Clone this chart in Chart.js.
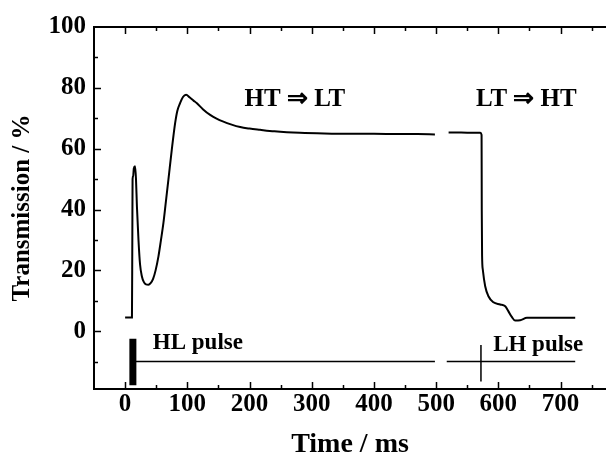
<!DOCTYPE html>
<html><head><meta charset="utf-8">
<script src="https://cdn.jsdelivr.net/npm/chart.js@4.4.0/dist/chart.umd.min.js"></script>
<style>html,body{margin:0;padding:0;background:#fff;overflow:hidden}#wrap{width:606px;height:453px}</style>
</head><body><div id="wrap"><canvas id="c" width="606" height="453"></canvas></div>
<script>
// ---- data (time in ms, transmission in %) ----
const xTickLabels = [0, 100, 200, 300, 400, 500, 600, 700];
const yTickLabels = [0, 20, 40, 60, 80, 100];

const htltTime  = [0, 11, 11.6, 12, 13, 14, 16, 17.5, 19, 21.5, 24, 27, 30, 33.5, 37.5, 41, 45, 49, 53.6, 57.5, 61.6, 65.5, 69.6, 75, 80.4, 84, 88.4, 93, 98, 104, 110, 115, 125, 136.7, 147, 158, 170, 185, 200, 217, 240, 260, 281, 320, 360, 400, 440, 470, 498];
const htltTrans = [4.5, 4.5, 30, 50, 51, 53.5, 54.2, 50, 41, 30, 22, 18, 16.2, 15.4, 15.3, 15.8, 17.2, 20, 24.6, 29.8, 35.6, 42.5, 49.8, 59.6, 68.4, 72.5, 75, 77, 77.7, 76.8, 75.8, 75, 73, 71.1, 69.9, 68.9, 68, 67.1, 66.6, 66.2, 65.7, 65.4, 65.2, 65.0, 64.9, 64.9, 64.8, 64.8, 64.7];

const lthtTime  = [520, 540, 560, 571, 573, 573.3, 573.8, 575, 578.8, 584, 592, 603, 611, 616, 621.6, 627, 635, 646, 680, 723.5];
const lthtTrans = [65.3, 65.3, 65.2, 65.2, 64.5, 40, 25, 20.2, 14.8, 11.5, 9.5, 8.8, 8.2, 6.6, 4.7, 3.5, 3.6, 4.4, 4.4, 4.4];

const hlPulseLineTime = [12, 498];
const lhPulseLineTime = [517, 723.5];
const pulseLevel = -10;
const hlPulseBarTime = 12.5, hlPulseBarRange = [-2.5, -17.8];
const lhPulseMarkTime = 572, lhPulseMarkRange = [-4.5, -16.5];

const annotationTexts = ['HT \u21D2 LT', 'LT \u21D2 HT', 'HL pulse', 'LH pulse'];
const annotationTime  = [273, 645, 117, 664];
const annotationTrans = [76, 76, -3.8, -4.4];

// ---- build datasets ----
const zip = (xs, ys) => xs.map((x, i) => ({x, y: ys[i]}));
const serif = '"Liberation Serif", "Times New Roman", serif';

const frame = {
  id: 'frame',
  afterDatasetsDraw(chart) {
    const {ctx, chartArea: a, scales: {x, y}} = chart;
    ctx.save();
    ctx.strokeStyle = '#000';
    ctx.lineWidth = 2;
    ctx.beginPath();
    ctx.moveTo(a.right + 2, a.top); ctx.lineTo(a.left, a.top);
    ctx.lineTo(a.left, a.bottom); ctx.lineTo(a.right + 2, a.bottom);
    ctx.stroke();
    ctx.lineWidth = 1.5;
    ctx.beginPath();
    for (let v = 0; v <= x.max; v += 50) {
      const px = Math.round(x.getPixelForValue(v)) + 0.5;
      const L = v % 100 === 0 ? 7 : 4;
      ctx.moveTo(px, a.bottom); ctx.lineTo(px, a.bottom - L);
      ctx.moveTo(px, a.top); ctx.lineTo(px, a.top + L);
    }
    for (let v = -10; v < 100; v += 10) {
      const py = Math.round(y.getPixelForValue(v)) + 0.5;
      const L = v % 20 === 0 ? 7 : 4;
      ctx.moveTo(a.left, py); ctx.lineTo(a.left + L, py);
    }
    ctx.stroke();
    ctx.fillStyle = '#000';
    ctx.textAlign = 'center';
    ctx.textBaseline = 'middle';
    annotationTexts.forEach((t, i) => {
      ctx.font = 'bold ' + (i < 2 ? 25 : 23) + 'px ' + serif;
      ctx.fillText(t, x.getPixelForValue(annotationTime[i]), y.getPixelForValue(annotationTrans[i]));
    });
    ctx.restore();
  }
};

const lineDs = (data, w) => ({data, showLine: true, borderColor: '#000', borderWidth: w, pointRadius: 0, fill: false, tension: 0, borderCapStyle: 'butt'});

new Chart(document.getElementById('c'), {
  type: 'scatter',
  data: {
    datasets: [
      Object.assign(lineDs(zip(htltTime, htltTrans), 2), {cubicInterpolationMode: 'monotone'}),
      Object.assign(lineDs(zip(lthtTime, lthtTrans), 2), {cubicInterpolationMode: 'monotone'}),
      lineDs(hlPulseLineTime.map(t => ({x: t, y: pulseLevel})), 1.5),
      lineDs(lhPulseLineTime.map(t => ({x: t, y: pulseLevel})), 1.5),
      lineDs(hlPulseBarRange.map(v => ({x: hlPulseBarTime, y: v})), 7),
      lineDs(lhPulseMarkRange.map(v => ({x: lhPulseMarkTime, y: v})), 1.5)
    ]
  },
  options: {
    responsive: false, animation: false, devicePixelRatio: 1,
    layout: {padding: {top: 27, right: 0, left: 0, bottom: 0}},
    plugins: {legend: {display: false}, tooltip: {enabled: false}},
    scales: {
      x: {
        type: 'linear', min: -50, max: 773,
        afterBuildTicks: s => { s.ticks = xTickLabels.map(v => ({value: v})); },
        afterFit: s => { s.height = 64; },
        grid: {display: false, drawTicks: false}, border: {display: false},
        ticks: {color: '#000', padding: 1, maxRotation: 0, font: {family: serif, size: 25, weight: 'bold'}},
        title: {display: true, text: 'Time / ms', color: '#000', padding: {top: 0, bottom: 0}, font: {family: serif, size: 28, weight: 'bold', lineHeight: 0.6}}
      },
      y: {
        type: 'linear', min: -19, max: 100,
        afterBuildTicks: s => { s.ticks = yTickLabels.map(v => ({value: v})); },
        afterFit: s => { s.width = 94; },
        grid: {display: false, drawTicks: false}, border: {display: false},
        ticks: {color: '#000', padding: 8, font: {family: serif, size: 25, weight: 'bold'}},
        title: {display: true, text: 'Transmission / %', color: '#000', padding: {top: 9, bottom: 0}, font: {family: serif, size: 25, weight: 'bold', lineHeight: 1.1}}
      }
    }
  },
  plugins: [frame]
});
</script></body></html>
